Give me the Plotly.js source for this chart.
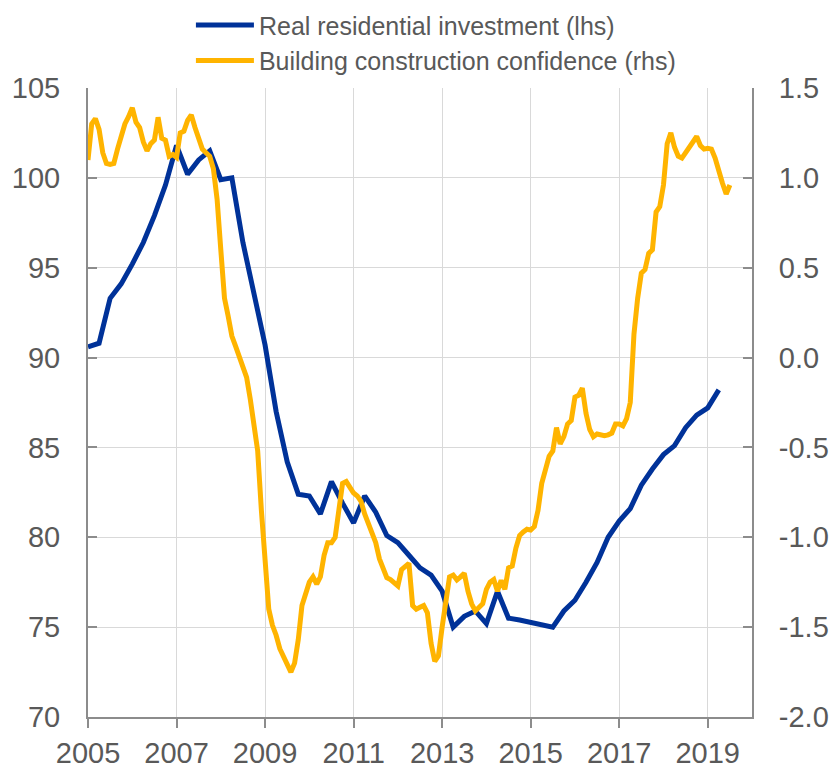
<!DOCTYPE html>
<html>
<head>
<meta charset="utf-8">
<script src="https://cdn.plot.ly/plotly-3.0.1.min.js"></script>
<style>
  html, body { margin: 0; padding: 0; background: #ffffff; }
  #chart { width: 834px; height: 769px; }
</style>
</head>
<body>
<div id="chart"></div>
<script>
// ---- Data ----
// Real residential investment (lhs), quarterly, first observation 2005Q1
var investStartYear = 2005;
var investValues = [
  90.6, 90.8, 93.3, 94.1,
  95.2, 96.4, 97.9, 99.6,
  101.8, 100.2, 101.0, 101.5,
  99.9, 100.0, 96.4, 93.6,
  90.7, 87.0, 84.2, 82.4,
  82.3, 81.3, 83.1, 81.9,
  80.8, 82.3, 81.4, 80.1,
  79.7, 79.0, 78.3, 77.9,
  77.0, 75.0, 75.6, 75.9,
  75.2, 77.0, 75.5, 75.4,
  75.25, 75.1, 75.0, 75.9,
  76.5, 77.5, 78.6, 80.0,
  80.9, 81.6, 82.9, 83.8,
  84.6, 85.1, 86.1, 86.8,
  87.2, 88.2
];

// Building construction confidence (rhs), monthly, first observation Jan 2005
var confStartYear = 2005;
var confValues = [
  // 2005
  1.10, 1.30, 1.33, 1.27, 1.14, 1.08, 1.075, 1.08, 1.16, 1.23, 1.30, 1.34,
  // 2006
  1.39, 1.31, 1.28, 1.20, 1.15, 1.19, 1.21, 1.337, 1.22, 1.21, 1.12, 1.13,
  // 2007
  1.114, 1.25, 1.26, 1.32, 1.35, 1.28, 1.21, 1.16, 1.14, 1.12, 1.05, 0.88,
  // 2008
  0.60, 0.33, 0.23, 0.12, 0.064, 0.0, -0.06, -0.11, -0.233, -0.36, -0.52, -0.85,
  // 2009
  -1.15, -1.40, -1.49, -1.545, -1.62, -1.665, -1.72, -1.75, -1.70, -1.57, -1.38, -1.31,
  // 2010
  -1.25, -1.22, -1.26, -1.22, -1.10, -1.03, -1.03, -1.00, -0.86, -0.70, -0.69, -0.72,
  // 2011
  -0.754, -0.77, -0.80, -0.87, -0.93, -0.97, -1.03, -1.12, -1.18, -1.225, -1.235, -1.25,
  // 2012
  -1.27, -1.18, -1.165, -1.145, -1.38, -1.40, -1.39, -1.38, -1.42, -1.59, -1.69, -1.66,
  // 2013
  -1.50, -1.36, -1.22, -1.21, -1.237, -1.22, -1.20, -1.30, -1.37, -1.41, -1.39, -1.37,
  // 2014
  -1.29, -1.25, -1.235, -1.30, -1.24, -1.29, -1.17, -1.16, -1.06, -0.99, -0.97, -0.955,
  // 2015
  -0.96, -0.94, -0.85, -0.70, -0.625, -0.55, -0.52, -0.39, -0.48, -0.44, -0.37, -0.35,
  // 2016
  -0.22, -0.21, -0.17, -0.31, -0.40, -0.44, -0.425, -0.43, -0.435, -0.43, -0.42, -0.37,
  // 2017
  -0.37, -0.38, -0.34, -0.25, 0.13, 0.33, 0.47, 0.49, 0.58, 0.60, 0.81, 0.84,
  // 2018
  0.96, 1.19, 1.25, 1.17, 1.12, 1.11, 1.14, 1.18, 1.20, 1.23, 1.18, 1.16,
  // 2019
  1.165, 1.16, 1.11, 1.03, 0.97, 0.91, 0.96
];

var xTickVals = [2005, 2007, 2009, 2011, 2013, 2015, 2017, 2019];
var xTickText = ["2005", "2007", "2009", "2011", "2013", "2015", "2017", "2019"];
var leftTickVals = [70, 75, 80, 85, 90, 95, 100, 105];
var leftTickText = ["70", "75", "80", "85", "90", "95", "100", "105"];
var rightTickVals = [-2.0, -1.5, -1.0, -0.5, 0.0, 0.5, 1.0, 1.5];
var rightTickText = ["-2.0", "-1.5", "-1.0", "-0.5", "0.0", "0.5", "1.0", "1.5"];

var seriesNames = ["Real residential investment (lhs)", "Building construction confidence (rhs)"];

// ---- Build time coordinates (quarterly / monthly positions) ----
var investX = investValues.map(function (v, i) { return investStartYear + i / 4; });
var confX = confValues.map(function (v, i) { return confStartYear + i / 12; });

var fontFamily = "Liberation Sans, Arial, Helvetica, sans-serif";
var textColor = "#595959";
var axisColor = "#8c8c8c";
var gridColor = "#d9d9d9";

var traces = [
  {
    x: investX, y: investValues, name: seriesNames[0],
    type: "scatter", mode: "lines", yaxis: "y",
    line: { color: "#003299", width: 5, shape: "linear" },
    hoverinfo: "x+y"
  },
  {
    x: confX, y: confValues, name: seriesNames[1],
    type: "scatter", mode: "lines", yaxis: "y2",
    line: { color: "#FFB400", width: 5, shape: "linear" },
    hoverinfo: "x+y"
  }
];

var layout = {
  width: 834, height: 769,
  margin: { l: 88, r: 82, t: 88, b: 52, pad: 0, autoexpand: false },
  paper_bgcolor: "#ffffff",
  plot_bgcolor: "#ffffff",
  font: { family: fontFamily, color: textColor, size: 29 },
  showlegend: true,
  legend: {
    orientation: "v",
    x: 0.155, xanchor: "left", xref: "paper",
    y: 0.997, yanchor: "top", yref: "container",
    bgcolor: "rgba(0,0,0,0)",
    borderwidth: 0,
    font: { family: fontFamily, size: 25, color: textColor },
    tracegroupgap: 0,
    itemwidth: 58
  },
  xaxis: {
    range: [2005, 2020],
    tickmode: "array", tickvals: xTickVals, ticktext: xTickText,
    showgrid: true, gridcolor: gridColor, gridwidth: 1,
    zeroline: false,
    showline: true, linecolor: axisColor, linewidth: 2,
    ticks: "outside", ticklen: 9, tickwidth: 2, tickcolor: axisColor,
    tickfont: { family: fontFamily, size: 29, color: textColor },
    fixedrange: true
  },
  yaxis: {
    range: [70, 105],
    tickmode: "array", tickvals: leftTickVals, ticktext: leftTickText,
    showgrid: true, gridcolor: gridColor, gridwidth: 1,
    zeroline: false,
    showline: true, linecolor: axisColor, linewidth: 2,
    ticks: "inside", ticklen: 9, tickwidth: 2, tickcolor: axisColor,
    tickfont: { family: fontFamily, size: 29, color: textColor },
    ticklabelstandoff: 20,
    fixedrange: true
  },
  yaxis2: {
    range: [-2.0, 1.5],
    overlaying: "y", side: "right",
    tickmode: "array", tickvals: rightTickVals, ticktext: rightTickText,
    showgrid: false,
    zeroline: false,
    showline: true, linecolor: axisColor, linewidth: 2,
    ticks: "inside", ticklen: 9, tickwidth: 2, tickcolor: axisColor,
    tickfont: { family: fontFamily, size: 29, color: textColor },
    ticklabelstandoff: 19,
    fixedrange: true
  }
};

Plotly.newPlot("chart", traces, layout, { displayModeBar: false, staticPlot: false, responsive: false });
</script>
</body>
</html>
